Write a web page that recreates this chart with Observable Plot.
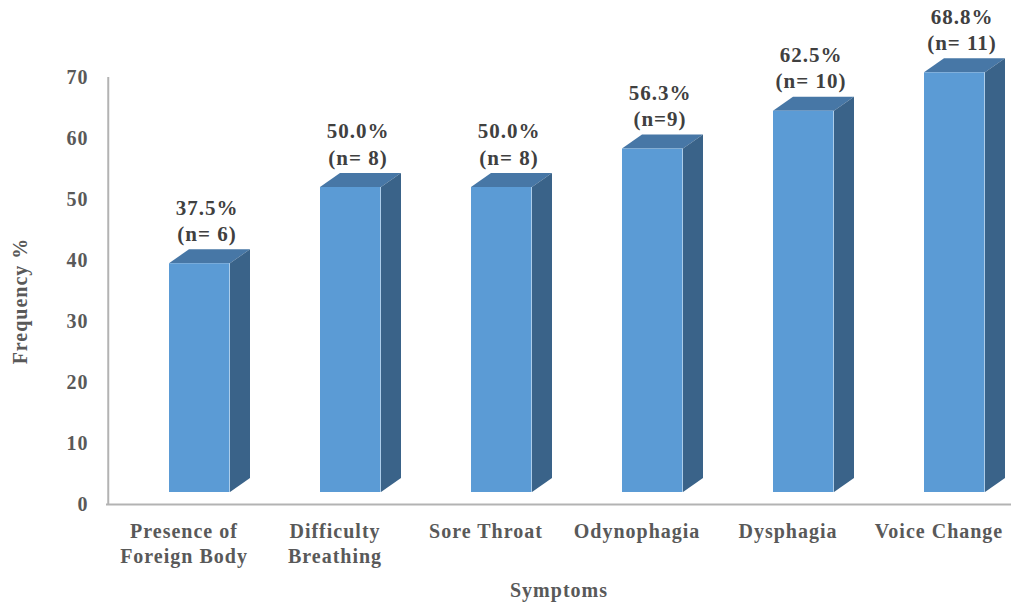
<!DOCTYPE html>
<html><head><meta charset="utf-8">
<script src="https://cdn.jsdelivr.net/npm/d3@7"></script>
<script src="https://cdn.jsdelivr.net/npm/@observablehq/plot@0.6"></script>
<style>body{margin:0;background:#fff}</style>
</head><body><div id="chart"></div>
<script>
const categories = ["Presence of\nForeign Body", "Difficulty\nBreathing", "Sore Throat", "Odynophagia", "Dysphagia", "Voice Change"];
const percentages = [37.5, 50.0, 50.0, 56.3, 62.5, 68.8];
const valueLabels = ["37.5%\n(n= 6)", "50.0%\n(n= 8)", "50.0%\n(n= 8)", "56.3%\n(n=9)", "62.5%\n(n= 10)", "68.8%\n(n= 11)"];
const yTicks = [0, 10, 20, 30, 40, 50, 60, 70];
const xTitle = "Symptoms";
const yTitle = "Frequency %";

const data = categories.map((c, i) => ({category: c, value: percentages[i], label: valueLabels[i]}));

const W = 1011, H = 606;
const xRange = [106, 1015];
const step = (xRange[1] - xRange[0]) / categories.length;
const frontLeft = 61, frontWidth = 61, depthX = 20, depthY = 14, lift = 12;
const frontColor = "#5b9bd5", topColor = "#4777a6", sideColor = "#3a6389";

function faces(index, scales) {
  const x = scales.x, y = scales.y;
  const g = d3.create("svg:g");
  for (const d of data) {
    const x0 = x(d.category) + frontLeft, x1 = x0 + frontWidth;
    const yt = y(d.value) - lift, yb = y(0) - lift;
    g.append("path").attr("fill", topColor)
      .attr("d", `M${x0},${yt}L${x1},${yt}L${x1 + depthX},${yt - depthY}L${x0 + depthX},${yt - depthY}Z`);
    g.append("path").attr("fill", sideColor)
      .attr("d", `M${x1},${yt}L${x1 + depthX},${yt - depthY}L${x1 + depthX},${yb - depthY}L${x1},${yb}Z`);
  }
  return g.node();
}

const chart = Plot.plot({
  width: W, height: H,
  marginTop: 77, marginBottom: 102, marginLeft: 106, marginRight: 0,
  style: {fontFamily: "'Liberation Serif','Times New Roman',serif", fontWeight: "bold", fontSize: "20px", color: "#595959", letterSpacing: "1px", background: "#fff"},
  x: {type: "band", domain: categories, range: xRange, padding: 0},
  y: {domain: [0, 70]},
  marks: [
    faces,
    Plot.barY(data, {x: "category", y: "value", fill: frontColor, insetLeft: frontLeft, insetRight: step - frontLeft - frontWidth, dy: -lift}),
    Plot.ruleY([0], {stroke: "#b3b3b3", strokeWidth: 2}),
    Plot.ruleX([categories[0]], {y1: 0, y2: 70, dx: -step / 2, stroke: "#b3b3b3", strokeWidth: 2}),
    Plot.axisY({ticks: yTicks, tickSize: 0, tickPadding: 18, fontSize: 20, label: null, fill: "#595959"}),
    Plot.axisX({tickSize: 0, tickPadding: 16, lineHeight: 1.25, fontSize: 20, label: null, fill: "#595959"}),
    Plot.text(data, {x: "category", y: "value", text: "label", dx: 23, dy: -35, lineAnchor: "bottom", lineHeight: 1.25, fontSize: 21, fontWeight: "bold", fill: "#404040"}),
    Plot.text([xTitle], {frameAnchor: "bottom", dy: 86, lineAnchor: "middle", fontSize: 20, fontWeight: "bold", fill: "#595959"}),
    Plot.text([yTitle], {frameAnchor: "left", textAnchor: "middle", rotate: -90, dx: -86, dy: 10, lineAnchor: "middle", fontSize: 20, fontWeight: "bold", fill: "#595959", letterSpacing: "1.5px"})
  ]
});
document.getElementById("chart").appendChild(chart);
</script>
</body></html>
